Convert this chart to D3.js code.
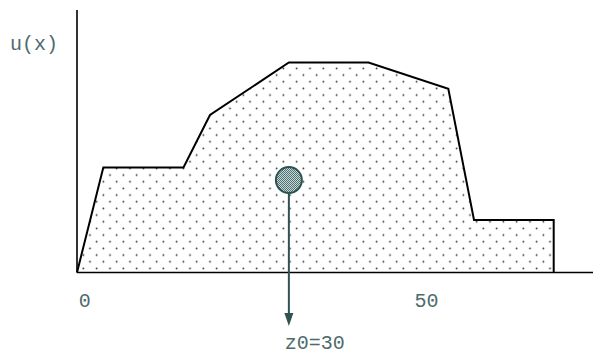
<!DOCTYPE html>
<html>
<head>
<meta charset="utf-8">
<script src="https://cdn.jsdelivr.net/npm/d3@7"></script>
<style>
  html, body { margin: 0; padding: 0; background: #fff; }
  svg { display: block; }
</style>
</head>
<body>
<svg id="chart" width="593" height="356"></svg>
<script>
// Aggregated membership function u(x): breakpoints and membership grades
const xValues = [-1, 2.85, 14.58, 18.46, 30, 41.65, 53.33, 57.09, 68.75, 68.75];
const uValues = [0, 0.5, 0.5, 0.75, 1, 1, 0.875, 0.25, 0.25, 0];
// Centre of gravity (defuzzified output)
const z0 = 30;
const z0Grade = 0.44;
const xTicks = [0, 50];
const yLabel = "u(x)";

const svg = d3.select("#chart");

const x = d3.scaleLinear().domain([-1, 74.5]).range([77, 593]);
const y = d3.scaleLinear().domain([0, 1.25]).range([272.5, 10]);

const ink = "#4d6b6b";
const markColor = "#2f5252";
const mono = "'Liberation Mono', 'DejaVu Sans Mono', monospace";

const defs = svg.append("defs");

// Staggered dot stipple for the area under u(x)
const step = 40 / 3;
const dots = defs.append("pattern")
  .attr("id", "stipple")
  .attr("patternUnits", "userSpaceOnUse")
  .attr("x", 6.67).attr("y", 5.07)
  .attr("width", step).attr("height", step);
dots.append("circle").attr("cx", step / 4).attr("cy", step / 4).attr("r", 0.85).attr("fill", "#222");
dots.append("circle").attr("cx", step * 3 / 4).attr("cy", step * 3 / 4).attr("r", 0.85).attr("fill", "#222");

// Fine checker fill for the centroid marker
const checker = defs.append("pattern")
  .attr("id", "checker")
  .attr("patternUnits", "userSpaceOnUse")
  .attr("width", 2).attr("height", 2);
checker.append("rect").attr("width", 2).attr("height", 2).attr("fill", "#c9d6d6");
checker.append("rect").attr("width", 1).attr("height", 1).attr("fill", "#4f7272");
checker.append("rect").attr("x", 1).attr("y", 1).attr("width", 1).attr("height", 1).attr("fill", "#4f7272");

// Area under the membership curve
const pts = xValues.map((v, i) => [x(v), y(uValues[i])]);
const line = d3.line();
svg.append("path")
  .attr("d", line(pts) + "Z")
  .attr("fill", "url(#stipple)")
  .attr("stroke", "none");
svg.append("path")
  .attr("d", line(pts))
  .attr("fill", "none")
  .attr("stroke", "#000")
  .attr("stroke-width", 2)
  .attr("stroke-linejoin", "miter");

// Axes (plain lines, labels placed by the scale)
svg.append("line")
  .attr("x1", x(-1)).attr("x2", x(-1))
  .attr("y1", y(1.25)).attr("y2", y(0))
  .attr("stroke", "#000").attr("stroke-width", 1.6);
svg.append("line")
  .attr("x1", x(-1)).attr("x2", x(74.5))
  .attr("y1", y(0)).attr("y2", y(0))
  .attr("stroke", "#000").attr("stroke-width", 1.6);

const xAxis = d3.axisBottom(x).tickValues(xTicks).tickSize(0).tickPadding(0).tickFormat(d3.format("d"));
const gx = svg.append("g").attr("transform", `translate(0.5,${y(0)})`).call(xAxis);
gx.select(".domain").remove();
gx.selectAll("text")
  .attr("dy", null)
  .attr("y", 34)
  .attr("fill", ink)
  .style("font-family", mono)
  .style("font-size", "20px");

svg.append("text")
  .attr("x", 10).attr("y", 50)
  .attr("fill", ink)
  .style("font-family", mono)
  .style("font-size", "20px")
  .text(yLabel);

// Centroid marker with arrow down to the axis label
const cx = x(z0), cy = y(z0Grade);
const r = 13;
svg.append("line")
  .attr("x1", cx).attr("x2", cx)
  .attr("y1", cy + r).attr("y2", 314)
  .attr("stroke", markColor).attr("stroke-width", 2);
svg.append("path")
  .attr("d", `M${cx - 4.5},313 L${cx + 4.5},313 L${cx},326 Z`)
  .attr("fill", markColor);
svg.append("circle")
  .attr("cx", cx).attr("cy", cy).attr("r", r)
  .attr("fill", "url(#checker)")
  .attr("stroke", markColor).attr("stroke-width", 2);

svg.append("text")
  .attr("x", cx - 4).attr("y", 349)
  .attr("fill", ink)
  .style("font-family", mono)
  .style("font-size", "20px")
  .text(`z0=${z0}`);
</script>
</body>
</html>
